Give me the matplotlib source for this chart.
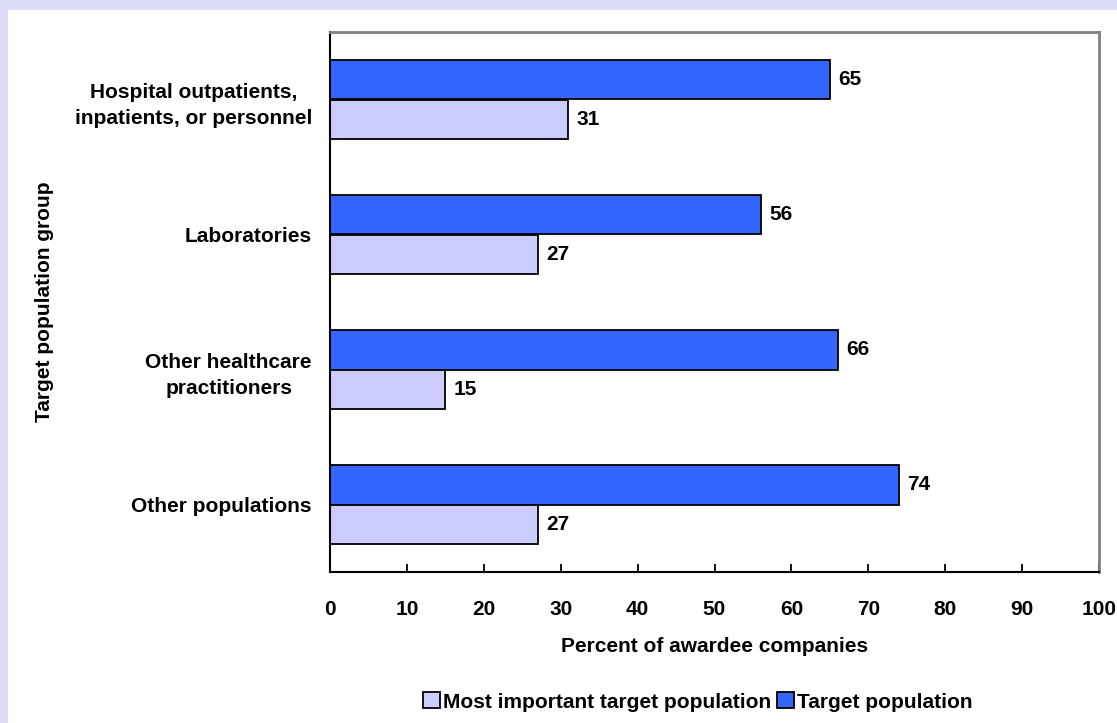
import numpy as np
import matplotlib
matplotlib.use("Agg")
import matplotlib.pyplot as plt
from matplotlib.patches import Rectangle, Patch

plt.rcParams['font.family'] = ['Liberation Sans', 'DejaVu Sans']
plt.rcParams['font.weight'] = 'bold'

# data
groups = ["Hospital outpatients,\ninpatients, or personnel",
          "Laboratories",
          "Other healthcare\npractitioners",
          "Other populations"]
target_pop = [65, 56, 66, 74]
most_important = [31, 27, 15, 27]
x_ticks = [0, 10, 20, 30, 40, 50, 60, 70, 80, 90, 100]

fs = 15

fig = plt.figure(figsize=(11.17, 7.23), dpi=100)
fig.patch.set_facecolor('#DCDCF8')
# white inner panel
fig.patches.append(Rectangle((8 / 1117, 0), 1, 1 - 10 / 723, transform=fig.transFigure,
                             facecolor='white', edgecolor='none', zorder=-1))

ax = fig.add_axes([330 / 1117, 1 - 572 / 723, 769 / 1117, 540 / 723])
ax.set_zorder(2)
ax.set_facecolor('white')

y = np.arange(len(groups))
h = 0.295
b1 = ax.barh(y - h / 2, target_pop, height=h, color='#3366FF', edgecolor='black',
             linewidth=1.3, label='Target population')
b2 = ax.barh(y + h / 2, most_important, height=h, color='#CCCCFF', edgecolor='black',
             linewidth=1.3, label='Most important target population')

for bars in (b1, b2):
    ax.bar_label(bars, padding=6, fontsize=fs, fontweight='bold')

ax.set_xlim(0, 100)
ax.set_ylim(len(groups) - 0.5, -0.5)
ax.set_xticks(x_ticks)
ax.set_yticks(y)
ax.set_yticklabels(groups, ha='right', multialignment='center', linespacing=1.5)
ax.tick_params(axis='y', length=0, pad=13, labelsize=fs)
ax.tick_params(axis='x', direction='in', length=6, width=1.3, pad=20, labelsize=fs)

for s in ('top', 'right'):
    ax.spines[s].set_color('#808080')
    ax.spines[s].set_linewidth(2)
for s in ('left', 'bottom'):
    ax.spines[s].set_color('black')
    ax.spines[s].set_linewidth(1.5)

ax.set_xlabel("Percent of awardee companies", fontsize=fs, fontweight='bold', labelpad=13)
fig.text(45 / 1117, 1 - 302 / 723, "Target population group", rotation=90,
         ha='center', va='center', fontsize=fs, fontweight='bold')

handles = [Patch(facecolor='#CCCCFF', edgecolor='black', linewidth=1.3,
                 label='Most important target population'),
           Patch(facecolor='#3366FF', edgecolor='black', linewidth=1.3,
                 label='Target population')]
fig.legend(handles=handles, loc='center', bbox_to_anchor=(698 / 1117, 1 - 702 / 723),
           ncol=2, frameon=False, fontsize=fs, handlelength=0.8, handleheight=0.8,
           handletextpad=0.15, columnspacing=0.3, borderpad=0)

fig.savefig("out.png", dpi=100, facecolor=fig.get_facecolor())
